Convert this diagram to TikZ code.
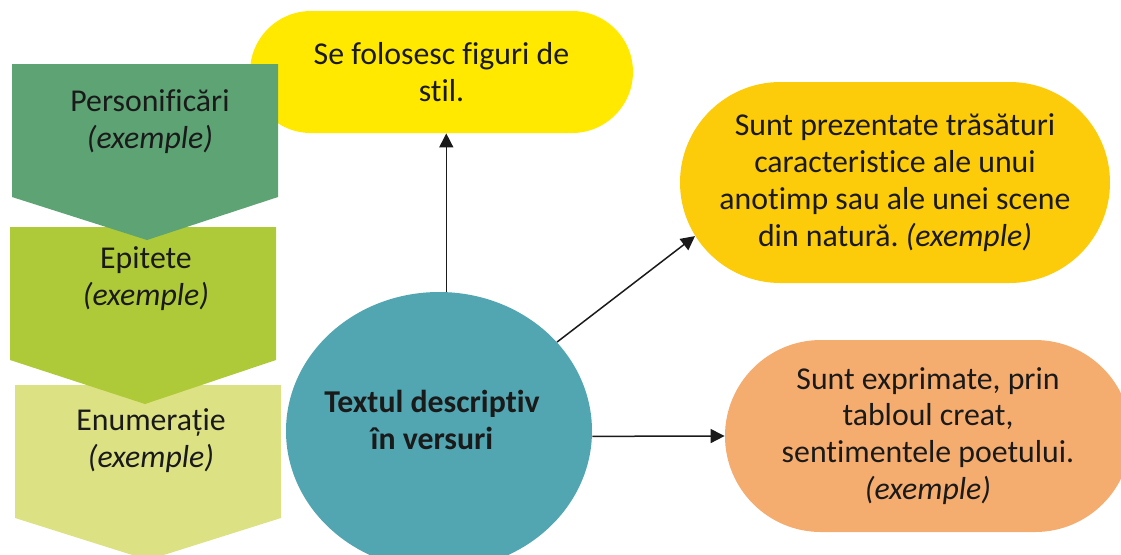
\documentclass[tikz,border=0pt]{standalone}
\usepackage{fontspec}
\setmainfont{Carlito}[Ligatures=NoCommon, RawFeature={-liga;-clig;-calt;-dlig}]
\usepackage{tikz}
\usetikzlibrary{shapes.geometric, shapes.misc, arrows.meta}
\definecolor{stilyellow}{HTML}{FFE900}
\definecolor{goldpill}{HTML}{FCCB0A}
\definecolor{salmonpill}{HTML}{F5AC6F}
\definecolor{hubteal}{HTML}{52A6B1}
\definecolor{greendark}{HTML}{5DA373}
\definecolor{greenmid}{HTML}{AFCA38}
\definecolor{greenlight}{HTML}{DCE284}
\definecolor{inkdark}{HTML}{1A1A1A}
\frenchspacing
\tikzset{
    pill/.style = {
        rounded rectangle, draw=none,
        inner sep=0pt,
        align=center
    },
    hub/.style = {
        ellipse, draw=none, fill=hubteal,
        minimum width=153pt,
        minimum height=139pt,
        inner sep=0pt
    },
    chevron/.style = {
        draw=none
    },
    link/.style = {
        -{Triangle[length=7pt, width=7pt]},
        line width=0.75pt, draw=inkdark
    }
}

\begin{document}
\begin{tikzpicture}[x=0.5pt, y=-0.5pt, every node/.style={font=\fontsize{15.9}{18.4}\selectfont, text=inkdark}]

\useasboundingbox (0,0) rectangle (1121,554);

\node (figuri) [pill, fill=stilyellow, minimum width=191.5pt, minimum height=61pt] at (441.5,72) {Se folosesc figuri de\\stil.};

% bottom step first, so every tip lies over the next step
\fill [chevron, greenlight] (15,385) -- (281,385) -- (281,518) -- (148,560) -- (15,518) -- cycle;
\fill [chevron, greenmid] (10,227) -- (276,227) -- (276,360) -- (145,404) -- (10,360) -- cycle;
\fill [chevron, greendark] (12,64) -- (278,64) -- (278,197) -- (147,240) -- (12,197) -- cycle;

\node (personif) [align=center] at (150,122) {Personificări\\\textit{(exemple)}};
\node (epitete) [align=center] at (146,279) {Epitete\\\textit{(exemple)}};
\node (enumeratie) [align=center] at (151,441) {Enumerație\\\textit{(exemple)}};

\node (trasaturi) [pill, fill=goldpill, minimum width=215pt, minimum height=100.5pt] at (895,182.5) {Sunt prezentate trăsături\\caracteristice ale unui\\anotimp sau ale unei scene\\din natură. \textit{(exemple)}};
\node (sentimente) [pill, fill=salmonpill, minimum width=203pt, minimum height=96pt] at (928,436) {Sunt exprimate, prin\\tabloul creat,\\sentimentele poetului.\\\textit{(exemple)}};

\node (centru) [hub] at (439,431) {};
\node (titlu) [align=center, font=\fontsize{15.9}{18.4}\selectfont\bfseries] at (432,420) {Textul descriptiv\\în versuri};

\draw [link] (centru.87) -- (centru.87 |- figuri.south);
\draw [link] (centru.37) -- (trasaturi.195);
\draw [link] (centru.-2) -- (sentimente.west);

\end{tikzpicture}
\end{document}
